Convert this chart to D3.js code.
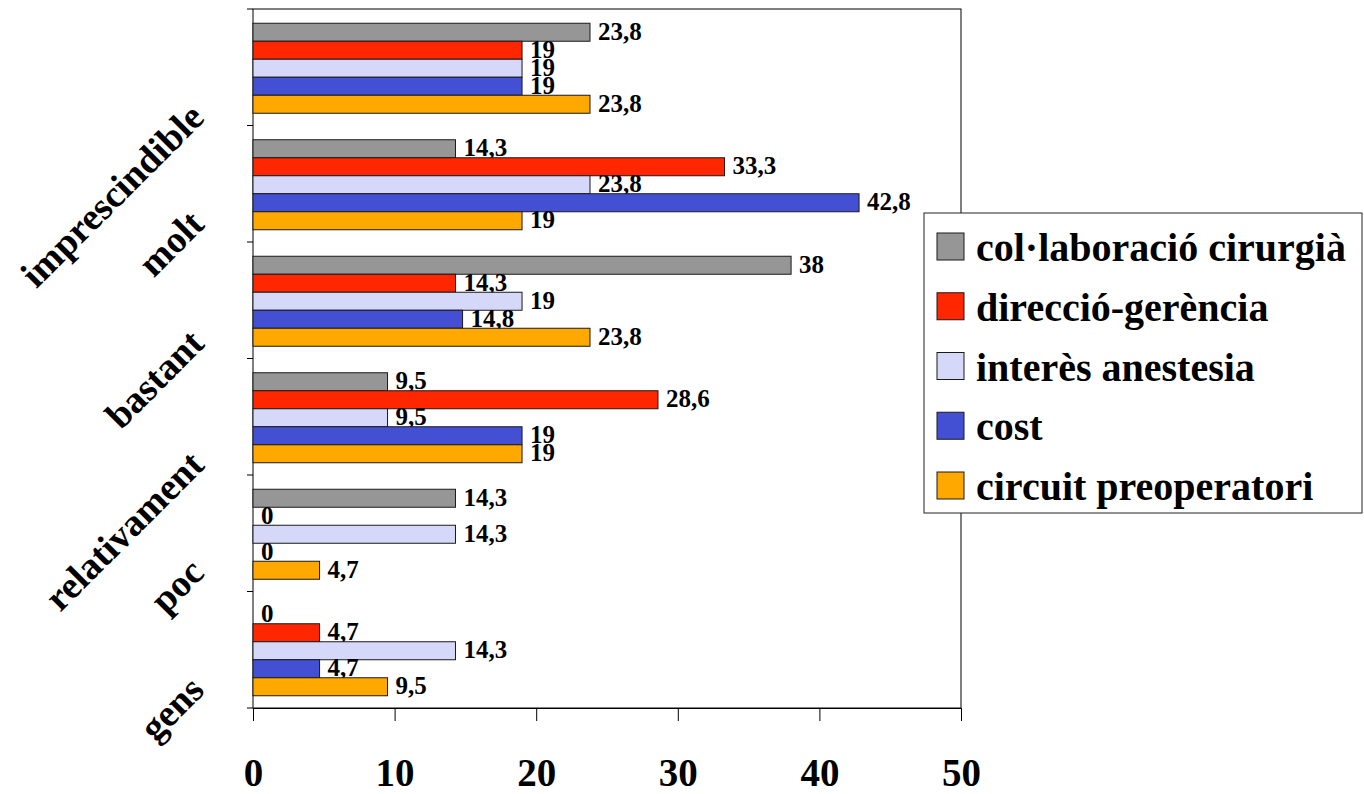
<!DOCTYPE html>
<html>
<head>
<meta charset="utf-8">
<script src="https://cdn.jsdelivr.net/npm/d3@7"></script>
<style>
  html, body { margin: 0; padding: 0; background: #fff; }
  svg { display: block; }
  svg text { font-family: "Liberation Serif", "Tinos", "Times New Roman", "Nimbus Roman", "DejaVu Serif", serif; font-weight: bold; fill: #000; }
</style>
</head>
<body>
<svg id="chart" width="1364" height="794"></svg>
<script>
// Categories (top to bottom) and series
const categories = ["imprescindible", "molt", "bastant", "relativament", "poc", "gens"];
const seriesNames = ["col·laboració cirurgià", "direcció-gerència", "interès anestesia", "cost", "circuit preoperatori"];
const colaboracioCirurgia = [23.8, 14.3, 38, 9.5, 14.3, 0];
const direccioGerencia   = [19, 33.3, 14.3, 28.6, 0, 4.7];
const interesAnestesia   = [19, 23.8, 19, 9.5, 14.3, 14.3];
const costValues         = [19, 42.8, 14.8, 19, 0, 4.7];
const circuitPreoperatori = [23.8, 19, 23.8, 19, 4.7, 9.5];
const xTickValues = [0, 10, 20, 30, 40, 50];
const seriesColors = ["#969696", "#ff2600", "#d6d8fa", "#4450d4", "#ffa800"];

const seriesValues = [colaboracioCirurgia, direccioGerencia, interesAnestesia, costValues, circuitPreoperatori];
const series = seriesNames.map((name, i) => ({
  name, color: seriesColors[i],
  values: categories.map((c, j) => ({ cat: c, value: seriesValues[i][j] }))
}));

const FONT = "'Liberation Serif', 'Tinos', 'Times New Roman', 'Nimbus Roman', 'DejaVu Serif', serif";

const svg = d3.select("#chart");
svg.append("rect").attr("width", 1364).attr("height", 794).attr("fill", "#fff");

const plot = { left: 253, right: 961, top: 9, bottom: 708 };

const x = d3.scaleLinear().domain([0, 50]).range([plot.left, plot.right]);
const y = d3.scaleBand().domain(categories).range([plot.top, plot.bottom]).padding(0);
const yInner = d3.scaleBand().domain(seriesNames).range([1, y.bandwidth() + 1]).paddingInner(0).paddingOuter(0.736);

const fmt = v => String(v).replace(".", ",");

// Plot frame
svg.append("rect")
  .attr("x", plot.left).attr("y", plot.top)
  .attr("width", plot.right - plot.left).attr("height", plot.bottom - plot.top)
  .attr("fill", "none").attr("stroke", "#000").attr("stroke-width", 1);

// Category axis ticks at band boundaries
const boundaries = categories.map(c => y(c)).concat([plot.bottom]);
svg.append("g").selectAll("line").data(boundaries).join("line")
  .attr("x1", plot.left - 6).attr("x2", plot.left)
  .attr("y1", d => d).attr("y2", d => d)
  .attr("stroke", "#000").attr("stroke-width", 1);

// Value axis
const xAxis = svg.append("g")
  .attr("transform", `translate(0,${plot.bottom})`)
  .call(d3.axisBottom(x).tickValues(xTickValues).tickSize(13).tickSizeOuter(0).tickFormat(d3.format("d")));
xAxis.attr("font-family", null).attr("font-size", null);
xAxis.select(".domain").attr("stroke", "#000");
xAxis.selectAll(".tick line").attr("stroke", "#000");
xAxis.selectAll(".tick text")
  .attr("y", 78).attr("dy", 0)
  .style("font-family", FONT)
  .style("font-weight", "bold").style("font-size", "39px").attr("fill", "#000");

// Bars and value labels, series by series
series.forEach(s => {
  const g = svg.append("g");
  g.selectAll("rect").data(s.values).join("rect")
    .attr("x", x(0))
    .attr("y", d => y(d.cat) + yInner(s.name))
    .attr("width", d => x(d.value) - x(0))
    .attr("height", yInner.bandwidth())
    .attr("fill", s.color)
    .attr("stroke", d => d.value > 0 ? "#1a1a1a" : "none")
    .attr("stroke-width", 1);
  g.selectAll("text").data(s.values).join("text")
    .attr("x", d => x(d.value) + 8)
    .attr("y", d => y(d.cat) + yInner(s.name) + yInner.bandwidth() / 2)
    .attr("dy", "0.3em")
    .style("font-size", "25px")
    .text(d => fmt(d.value));
});

// Rotated category labels
const catLabels = svg.append("g").selectAll("text").data(categories).join("text")
  .style("font-size", "38px")
  .attr("text-anchor", "end")
  .text(d => d);
catLabels.each(function(d) {
  const len = this.getComputedTextLength();
  const ax = 206;
  const ay = y(d) + y.bandwidth() / 2 + 38 + 0.06 * len;
  d3.select(this).attr("transform", `translate(${ax},${ay}) rotate(-45)`);
});

// Legend
const legend = svg.append("g");
legend.append("rect")
  .attr("x", 924).attr("y", 213).attr("width", 438).attr("height", 300)
  .attr("fill", "#fff").attr("stroke", "#222").attr("stroke-width", 1);
const items = legend.selectAll("g.item").data(series).join("g")
  .attr("class", "item")
  .attr("transform", (d, i) => `translate(937,${233 + i * 59.75})`);
items.append("rect")
  .attr("width", 27).attr("height", 27)
  .attr("fill", d => d.color).attr("stroke", "#1a1a1a").attr("stroke-width", 1);
items.append("text")
  .attr("x", 39).attr("y", 28)
  .style("font-size", "40px")
  .text(d => d.name);
</script>
</body>
</html>
